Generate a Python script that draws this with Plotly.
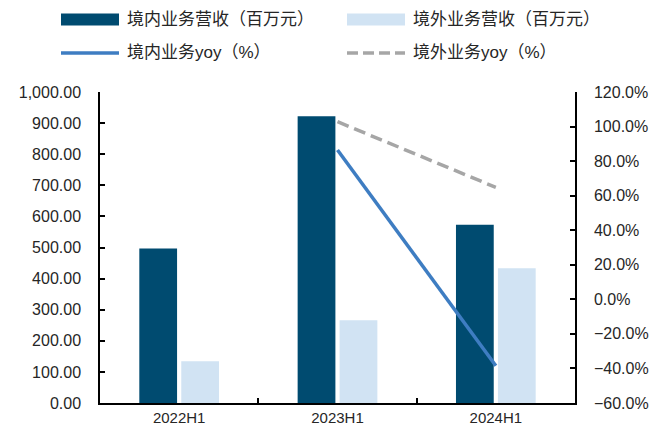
import plotly.graph_objects as go

categories = ["2022H1", "2023H1", "2024H1"]
domestic_rev = [497, 922, 573]
overseas_rev = [134, 266, 433]
domestic_yoy = [None, 86.4, -38.4]
overseas_yoy = [None, 102.8, 64.8]
series_names = ["境内业务营收（百万元）", "境外业务营收（百万元）", "境内业务yoy（%）", "境外业务yoy（%）"]
colors = ["#004B70", "#D1E3F3", "#3E7DC2", "#A6A6A6"]

FONT = "Liberation Sans, Arial, Noto Sans CJK SC, sans-serif"
TXT = "#262626"

W, H = 664, 425
L, R, T, B = 100, 89, 92, 22
PW, PH = W - L - R, H - T - B


def px(x):
    return (x - L) / PW


def py(y):
    return (H - B - y) / PH


fig = go.Figure()
fig.add_trace(go.Bar(x=categories, y=domestic_rev, name=series_names[0],
                     marker=dict(color=colors[0], line=dict(width=0)), yaxis="y"))
fig.add_trace(go.Bar(x=categories, y=overseas_rev, name=series_names[1],
                     marker=dict(color=colors[1], line=dict(width=0)), yaxis="y"))
fig.add_trace(go.Scatter(x=categories, y=domestic_yoy, name=series_names[2], mode="lines",
                         line=dict(color=colors[2], width=3.5), yaxis="y2"))
fig.add_trace(go.Scatter(x=categories, y=overseas_yoy, name=series_names[3], mode="lines",
                         line=dict(color=colors[3], width=3.5, dash="12px,6px"), yaxis="y2"))

# manual legend (2 x 2 grid, Excel style)
legend_slots = [(61, 19.5), (347, 19.5), (61, 53), (347, 53)]
shapes = []
annotations = []
for i, (sx, sy) in enumerate(legend_slots):
    if i < 2:
        shapes.append(dict(type="rect", xref="paper", yref="paper",
                           x0=px(sx), x1=px(sx + 58), y0=py(sy + 6), y1=py(sy - 6),
                           fillcolor=colors[i], line=dict(width=0)))
    else:
        shapes.append(dict(type="line", xref="paper", yref="paper",
                           x0=px(sx), x1=px(sx + 58), y0=py(sy), y1=py(sy),
                           line=dict(color=colors[i], width=3.5,
                                     dash="solid" if i == 2 else "11px,5px")))
    annotations.append(dict(text=series_names[i], xref="paper", yref="paper",
                            x=px(sx + 64), y=py(sy), xanchor="left", yanchor="middle",
                            showarrow=False,
                            font=dict(family="Liberation Sans, Arial, Noto Sans CJK SC", size=17, color=TXT)))

fig.update_layout(
    width=W, height=H,
    margin=dict(l=L, r=R, t=T, b=B, autoexpand=False),
    paper_bgcolor="white", plot_bgcolor="white",
    font=dict(family=FONT, size=16, color=TXT),
    barmode="group", bargap=0.47, bargroupgap=0.1,
    showlegend=False,
    shapes=shapes, annotations=annotations,
    xaxis=dict(showline=True, linecolor="black", linewidth=1.5, ticks="inside",
               tickson="boundaries", ticklen=5, tickcolor="black", tickwidth=1.5,
               showgrid=False, ticklabelstandoff=0,
               tickfont=dict(size=15, color=TXT)),
    yaxis=dict(range=[0, 1000], dtick=100, tickformat=",.2f", showline=True,
               linecolor="black", linewidth=1.5, ticks="inside", ticklen=5,
               tickcolor="black", tickwidth=1.5, showgrid=False, zeroline=False,
               ticklabelstandoff=14),
    yaxis2=dict(range=[-60, 120], dtick=20, tickformat=".1f", ticksuffix="%",
                overlaying="y", side="right", showline=True, linecolor="black",
                linewidth=1.5, ticks="inside", ticklen=5, tickcolor="black",
                tickwidth=1.5, showgrid=False, zeroline=False, ticklabelstandoff=14),
)

fig.write_html("out.html")
